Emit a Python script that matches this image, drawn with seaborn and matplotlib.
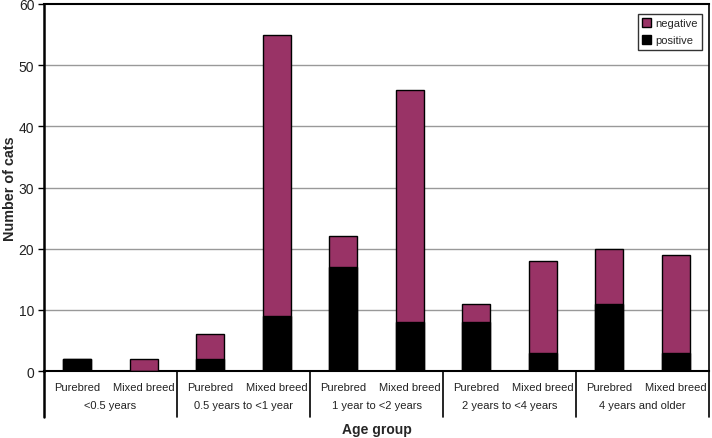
import matplotlib
matplotlib.use("Agg")
import matplotlib.pyplot as plt
import seaborn as sns
import pandas as pd
from matplotlib.patches import Patch
import matplotlib.transforms as mtransforms

age_groups = ["<0.5 years", "0.5 years to <1 year", "1 year to <2 years",
              "2 years to <4 years", "4 years and older"]
breeds = ["Purebred", "Mixed breed"]
positive = [2, 0, 2, 9, 17, 8, 8, 3, 11, 3]
negative = [0, 2, 4, 46, 5, 38, 3, 15, 9, 16]

plum = "#993366"

rows = []
i = 0
for g in age_groups:
    for b in breeds:
        rows.append({"bar": f"{i}", "age": g, "breed": b,
                     "positive": positive[i], "negative": negative[i],
                     "total": positive[i] + negative[i]})
        i += 1
df = pd.DataFrame(rows)

sns.set_theme(style="white")
plt.rcParams["font.family"] = ["Liberation Sans", "DejaVu Sans"]

fig = plt.figure(figsize=(7.12, 4.39), dpi=100)
ax = fig.add_axes([44/712, 1-372/439, (709-44)/712, (372-5)/439])

sns.barplot(data=df, x="bar", y="total", color=plum, edgecolor="black",
            linewidth=1.0, width=0.42, saturation=1, ax=ax, zorder=3)
sns.barplot(data=df, x="bar", y="positive", color="black", edgecolor="black",
            linewidth=1.0, width=0.42, saturation=1, ax=ax, zorder=4)

ax.set_xlim(-0.5, 9.5)
ax.set_ylim(0, 60)
ax.set_yticks(range(0, 61, 10))
ax.tick_params(axis="y", labelsize=10, length=4, width=1, color="black",
               direction="out", left=True, pad=3, labelcolor="#222222")
ax.set_xticks(range(10))
ax.set_xticklabels(df["breed"], fontsize=8, color="#222222")
ax.tick_params(axis="x", length=0, pad=8)
ax.set_xlabel("")
ax.set_ylabel("")

for y in range(10, 60, 10):
    ax.axhline(y, color="#999999", linewidth=1, zorder=1)

for s in ["top", "right", "bottom", "left"]:
    ax.spines[s].set_visible(True)
    ax.spines[s].set_color("black")
ax.spines["left"].set_linewidth(1.8)
ax.spines["bottom"].set_linewidth(1.5)
ax.spines["top"].set_linewidth(1.5)
ax.spines["right"].set_linewidth(1.2)

trans = mtransforms.blended_transform_factory(ax.transData, ax.transAxes)
for k, xs in enumerate([-0.5, 1.5, 3.5, 5.5, 7.5, 9.5]):
    lw = 1.8 if k == 0 else 1.2
    ax.plot([xs, xs], [0, -0.125], transform=trans, color="black",
            linewidth=lw, clip_on=False)
for k, g in enumerate(age_groups):
    ax.text(2*k + 0.5, -0.092, g, transform=trans, ha="center", va="center",
            fontsize=8, color="#222222")

fig.text(0.5*(44+709)/712, 1-430/439, "Age group", ha="center", va="center",
         fontsize=10, fontweight="bold")
fig.text(10.5/712, 1-189/439, "Number of cats", ha="center", va="center",
         rotation=90, fontsize=10.4, fontweight="bold")

handles = [Patch(facecolor=plum, edgecolor="black", label="negative"),
           Patch(facecolor="black", edgecolor="black", label="positive")]
leg = ax.legend(handles=handles, loc="upper right", bbox_to_anchor=(0.99, 0.973),
                fontsize=8, frameon=True, fancybox=False, handlelength=0.8,
                handleheight=0.8, handletextpad=0.4, borderpad=0.4,
                labelspacing=0.6, borderaxespad=0)
leg.get_frame().set_edgecolor("black")
leg.get_frame().set_linewidth(1.0)

fig.savefig("out.png", dpi=100)
